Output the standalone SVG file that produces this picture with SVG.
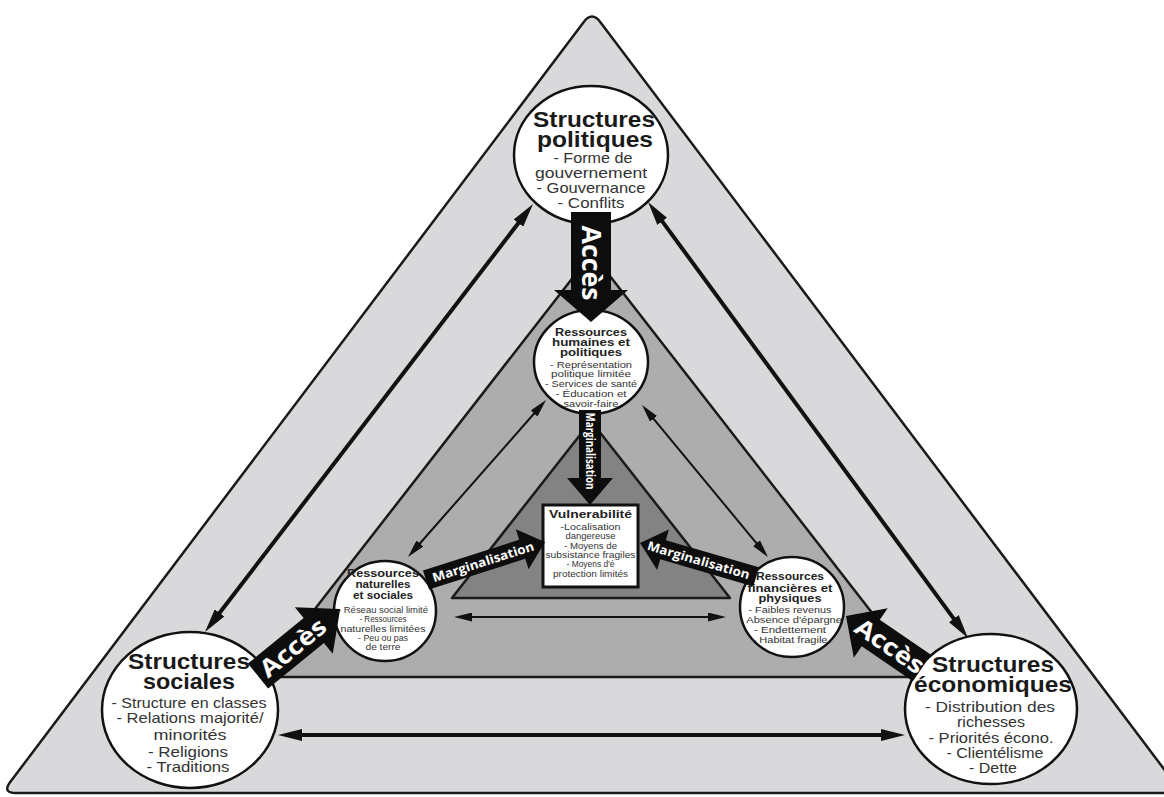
<svg xmlns="http://www.w3.org/2000/svg" width="1164" height="797" viewBox="0 0 1164 797">
<style>
.tri{stroke:#1a1a1a;stroke-width:2.5;stroke-linejoin:round}
.nd{fill:#fff;stroke:#111;stroke-width:2.5}
.tx{font-family:"Liberation Sans","Open Sans","Noto Sans",sans-serif;text-anchor:middle}
.b1{font-weight:700;font-size:22px;fill:#1a1a1a}
.r1{font-weight:400;font-size:14.5px;fill:#333}
.b2{font-weight:700;font-size:11px;fill:#222}
.r2{font-weight:400;font-size:9.5px;fill:#333}
.b3{font-weight:700;font-size:11px;fill:#222}
.r3{font-weight:400;font-size:9px;fill:#333}
.fat{fill:#0d0d0d}
.ft{font-family:"Open Sans","Noto Sans",sans-serif;font-weight:700;fill:#fff;text-anchor:middle}
.lg{stroke:#111;stroke-width:4;fill:none}
.th{stroke:#111;stroke-width:2;fill:none}
</style>
<defs>
<marker id="ahL" markerWidth="24" markerHeight="12" refX="8" refY="6" orient="auto-start-reverse" markerUnits="userSpaceOnUse"><path d="M0,0 L24,6 L0,12 Z" fill="#111"/></marker>
<marker id="ahS" markerWidth="18" markerHeight="9" refX="6" refY="4.5" orient="auto-start-reverse" markerUnits="userSpaceOnUse"><path d="M0,0 L18,4.5 L0,9 Z" fill="#111"/></marker>
</defs>
<rect width="1164" height="797" fill="#fff"/>
<!-- background triangles -->
<path class="tri" fill="#d9d9db" d="M583.6,22.2 Q592,11 600.4,22.2 L1173.6,781.8 Q1182,793 1168,793 L16,793 Q2,793 10.4,781.8 Z"/>
<path class="tri" fill="#adadad" d="M592,253 L922,677 L262,677 Z"/>
<path class="tri" fill="#838383" d="M591,421 L730,598 L452,598 Z"/>

<!-- nodes -->
<g id="structures-politiques">
<ellipse class="nd" cx="591" cy="155" rx="77" ry="69"/>
<text class="tx b1" x="594" y="127" textLength="122" lengthAdjust="spacingAndGlyphs">Structures</text>
<text class="tx b1" x="595" y="147" textLength="116" lengthAdjust="spacingAndGlyphs">politiques</text>
<text class="tx r1" x="593" y="163" textLength="79" lengthAdjust="spacingAndGlyphs">- Forme de</text>
<text class="tx r1" x="591" y="178" textLength="112" lengthAdjust="spacingAndGlyphs">gouvernement</text>
<text class="tx r1" x="591" y="193" textLength="109" lengthAdjust="spacingAndGlyphs">- Gouvernance</text>
<text class="tx r1" x="591" y="208" textLength="67" lengthAdjust="spacingAndGlyphs">- Conflits</text>
</g>
<g id="ressources-humaines">
<ellipse class="nd" cx="591" cy="362" rx="57" ry="52"/>
<text class="tx b2" x="591" y="336" textLength="72" lengthAdjust="spacingAndGlyphs">Ressources</text>
<text class="tx b2" x="591" y="346" textLength="78" lengthAdjust="spacingAndGlyphs">humaines et</text>
<text class="tx b2" x="591" y="356" textLength="62" lengthAdjust="spacingAndGlyphs">politiques</text>
<text class="tx r2" x="591" y="368" textLength="82" lengthAdjust="spacingAndGlyphs">- Représentation</text>
<text class="tx r2" x="591" y="377" textLength="80" lengthAdjust="spacingAndGlyphs">politique limitée</text>
<text class="tx r2" x="591" y="387" textLength="92" lengthAdjust="spacingAndGlyphs">- Services de santé</text>
<text class="tx r2" x="591" y="397" textLength="71" lengthAdjust="spacingAndGlyphs">- Éducation et</text>
<text class="tx r2" x="591" y="407" textLength="55" lengthAdjust="spacingAndGlyphs">savoir-faire</text>
</g>
<g id="vulnerabilite">
<rect x="543" y="505" width="95" height="82" fill="#fff" stroke="#111" stroke-width="3"/>
<text class="tx b3" x="590.5" y="518" textLength="83" lengthAdjust="spacingAndGlyphs">Vulnerabilité</text>
<text class="tx r3" x="590.5" y="530" textLength="60" lengthAdjust="spacingAndGlyphs">-Localisation</text>
<text class="tx r3" x="590.5" y="539" textLength="50" lengthAdjust="spacingAndGlyphs">dangereuse</text>
<text class="tx r3" x="590.5" y="549" textLength="53" lengthAdjust="spacingAndGlyphs">- Moyens de</text>
<text class="tx r3" x="590.5" y="558" textLength="90" lengthAdjust="spacingAndGlyphs">subsistance fragiles</text>
<text class="tx r3" x="590.5" y="567" textLength="48" lengthAdjust="spacingAndGlyphs">- Moyens d'é</text>
<text class="tx r3" x="590.5" y="577" textLength="75" lengthAdjust="spacingAndGlyphs">protection limités</text>
</g>
<g id="ressources-naturelles">
<ellipse class="nd" cx="385" cy="611" rx="51" ry="50"/>
<text class="tx b2" x="383" y="577" textLength="72" lengthAdjust="spacingAndGlyphs">Ressources</text>
<text class="tx b2" x="383" y="588" textLength="55" lengthAdjust="spacingAndGlyphs">naturelles</text>
<text class="tx b2" x="383" y="599" textLength="60" lengthAdjust="spacingAndGlyphs">et sociales</text>
<text class="tx r2" x="383" y="613" textLength="90" lengthAdjust="spacingAndGlyphs">- Réseau social limité</text>
<text class="tx r2" x="383" y="622" textLength="47" lengthAdjust="spacingAndGlyphs">- Ressources</text>
<text class="tx r2" x="383" y="632" textLength="85" lengthAdjust="spacingAndGlyphs">naturelles limitées</text>
<text class="tx r2" x="383" y="641" textLength="50" lengthAdjust="spacingAndGlyphs">- Peu ou pas</text>
<text class="tx r2" x="383" y="650" textLength="35" lengthAdjust="spacingAndGlyphs">de terre</text>
</g>
<g id="ressources-financieres">
<ellipse class="nd" cx="792" cy="607" rx="52" ry="50"/>
<text class="tx b2" x="790" y="580" textLength="68" lengthAdjust="spacingAndGlyphs">Ressources</text>
<text class="tx b2" x="790" y="592" textLength="85" lengthAdjust="spacingAndGlyphs">financières et</text>
<text class="tx b2" x="790" y="602" textLength="63" lengthAdjust="spacingAndGlyphs">physiques</text>
<text class="tx r2" x="790" y="613" textLength="83" lengthAdjust="spacingAndGlyphs">- Faibles revenus</text>
<text class="tx r2" x="791" y="623" textLength="102" lengthAdjust="spacingAndGlyphs">- Absence d'épargne</text>
<text class="tx r2" x="790" y="633" textLength="72" lengthAdjust="spacingAndGlyphs">- Endettement</text>
<text class="tx r2" x="790" y="643" textLength="75" lengthAdjust="spacingAndGlyphs">- Habitat fragile</text>
</g>
<g id="structures-sociales">
<ellipse class="nd" cx="190" cy="710" rx="88" ry="78"/>
<text class="tx b1" x="189" y="669" textLength="122" lengthAdjust="spacingAndGlyphs">Structures</text>
<text class="tx b1" x="189" y="689" textLength="92" lengthAdjust="spacingAndGlyphs">sociales</text>
<text class="tx r1" x="189" y="708" textLength="155" lengthAdjust="spacingAndGlyphs">- Structure en classes</text>
<text class="tx r1" x="190" y="723" textLength="147" lengthAdjust="spacingAndGlyphs">- Relations majorité/</text>
<text class="tx r1" x="190" y="740" textLength="73" lengthAdjust="spacingAndGlyphs">minorités</text>
<text class="tx r1" x="188" y="757" textLength="80" lengthAdjust="spacingAndGlyphs">- Religions</text>
<text class="tx r1" x="188" y="772" textLength="83" lengthAdjust="spacingAndGlyphs">- Traditions</text>
</g>
<g id="structures-economiques">
<ellipse class="nd" cx="991" cy="709" rx="86" ry="75"/>
<text class="tx b1" x="993" y="672" textLength="122" lengthAdjust="spacingAndGlyphs">Structures</text>
<text class="tx b1" x="993" y="692" textLength="158" lengthAdjust="spacingAndGlyphs">économiques</text>
<text class="tx r1" x="990" y="712" textLength="130" lengthAdjust="spacingAndGlyphs">- Distribution des</text>
<text class="tx r1" x="991" y="727" textLength="68" lengthAdjust="spacingAndGlyphs">richesses</text>
<text class="tx r1" x="991" y="743" textLength="125" lengthAdjust="spacingAndGlyphs">- Priorités écono.</text>
<text class="tx r1" x="995" y="758" textLength="97" lengthAdjust="spacingAndGlyphs">- Clientélisme</text>
<text class="tx r1" x="993" y="773" textLength="48" lengthAdjust="spacingAndGlyphs">- Dette</text>
</g>

<!-- connectors -->
<g id="connectors">
<line class="lg" x1="523.3" y1="216.7" x2="214.7" y2="619.3" marker-start="url(#ahL)" marker-end="url(#ahL)"/>
<line class="lg" x1="657.5" y1="214.9" x2="958.5" y2="625.1" marker-start="url(#ahL)" marker-end="url(#ahL)"/>
<line class="lg" x1="294" y1="735" x2="889" y2="735" marker-start="url(#ahL)" marker-end="url(#ahL)"/>
<line class="th" x1="538.1" y1="409" x2="415.9" y2="548" marker-start="url(#ahS)" marker-end="url(#ahS)"/>
<line class="th" x1="649.7" y1="414.2" x2="760.3" y2="547.8" marker-start="url(#ahS)" marker-end="url(#ahS)"/>
<line class="th" x1="466" y1="617" x2="714" y2="617" marker-start="url(#ahS)" marker-end="url(#ahS)"/>

<g transform="translate(591,212) rotate(90)">
<path class="fat" d="M0,-20 L78,-20 L78,-37 L110,0 L78,37 L78,20 L0,20 Z"/>
<text class="ft" x="51" y="9" font-size="26" textLength="75" lengthAdjust="spacingAndGlyphs">Accès</text>
</g>
<g transform="translate(590,410) rotate(90)">
<path class="fat" d="M0,-11 L68,-11 L68,-23 L95,0 L68,23 L68,11 L0,11 Z"/>
<text class="ft" x="41" y="4.5" font-size="12.5" textLength="77" lengthAdjust="spacingAndGlyphs">Marginalisation</text>
</g>
<g transform="translate(426,580) rotate(-17.7)">
<path class="fat" d="M0,-10 L101,-10 L101,-21 L125,0 L101,21 L101,10 L0,10 Z"/>
<text class="ft" x="60" y="4.5" font-size="12.5" textLength="106" lengthAdjust="spacingAndGlyphs">Marginalisation</text>
</g>
<g transform="translate(640,543) rotate(16.3)">
<path class="fat" d="M0,0 L24,-21 L24,-10 L121,-10 L121,10 L24,10 L24,21 Z"/>
<text class="ft" x="61" y="4.5" font-size="12.5" textLength="106" lengthAdjust="spacingAndGlyphs">Marginalisation</text>
</g>
<g transform="translate(258,676) rotate(-39.2)">
<path class="fat" d="M0,-16 L72,-16 L72,-30 L106,0 L72,30 L72,16 L0,16 Z"/>
<text class="ft" x="45" y="8.5" font-size="24" textLength="78" lengthAdjust="spacingAndGlyphs">Accès</text>
</g>
<g transform="translate(846,616) rotate(34.4)">
<path class="fat" d="M0,0 L30,-30 L30,-16 L92,-16 L92,16 L30,16 L30,30 Z"/>
<text class="ft" x="53" y="8.5" font-size="24" textLength="78" lengthAdjust="spacingAndGlyphs">Accès</text>
</g>
</g>
</svg>
